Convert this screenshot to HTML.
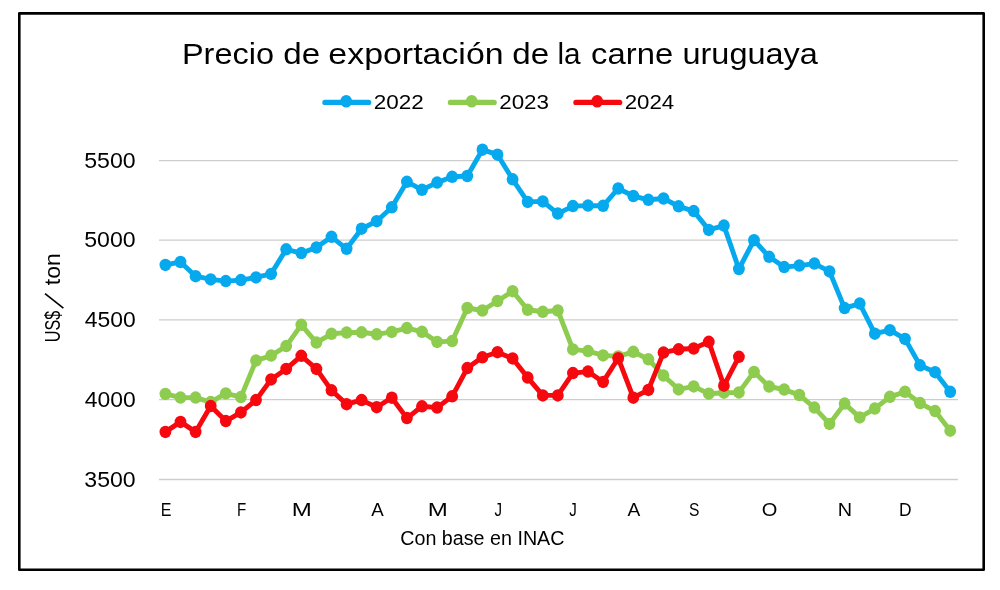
<!DOCTYPE html>
<html lang="es"><head><meta charset="utf-8"><title>Precio de exportación de la carne uruguaya</title>
<style>html,body{margin:0;padding:0;background:#fff;}body{width:1000px;height:590px;overflow:hidden;font-family:"Liberation Sans",sans-serif;}svg{display:block;}</style></head>
<body>
<svg width="1000" height="590" viewBox="0 0 1000 590" font-family="'Liberation Sans', sans-serif" fill="#000" style="font-kerning:none">
<rect x="0" y="0" width="1000" height="590" fill="#fff"/>
<rect x="19.3" y="13.4" width="964.4" height="556.3" fill="none" stroke="#000" stroke-width="2.6" stroke-linejoin="round"/>
<line x1="159.0" y1="160.65" x2="958.0" y2="160.65" stroke="#CDCDCD" stroke-width="1.3"/>
<line x1="159.0" y1="240.2" x2="958.0" y2="240.2" stroke="#CDCDCD" stroke-width="1.3"/>
<line x1="159.0" y1="319.9" x2="958.0" y2="319.9" stroke="#CDCDCD" stroke-width="1.3"/>
<line x1="159.0" y1="399.6" x2="958.0" y2="399.6" stroke="#CDCDCD" stroke-width="1.3"/>
<line x1="159.0" y1="479.5" x2="958.0" y2="479.5" stroke="#CDCDCD" stroke-width="1.3"/>
<line x1="324.9" y1="102.45" x2="368.7" y2="102.45" stroke="#06A9EE" stroke-width="5.2" stroke-linecap="round"/><ellipse cx="346.2" cy="101.3" rx="5.8" ry="6.3" fill="#06A9EE"/>
<line x1="450.4" y1="102.45" x2="494.2" y2="102.45" stroke="#8DCC4E" stroke-width="5.2" stroke-linecap="round"/><ellipse cx="471.7" cy="101.3" rx="5.8" ry="6.3" fill="#8DCC4E"/>
<line x1="575.9" y1="102.45" x2="619.7" y2="102.45" stroke="#F5090F" stroke-width="5.2" stroke-linecap="round"/><ellipse cx="597.2" cy="101.3" rx="5.8" ry="6.3" fill="#F5090F"/>
<defs><filter id="gs" filterUnits="userSpaceOnUse" x="0" y="0" width="1000" height="590" color-interpolation-filters="sRGB"><feColorMatrix type="saturate" values="0"/></filter></defs>
<g opacity="0.999" filter="url(#gs)">
<text transform="translate(181.93,64.40) scale(1.0692,1)" font-size="30.4">Precio</text>
<text transform="translate(283.21,64.40) scale(1.0902,1)" font-size="30.4">de</text>
<text transform="translate(328.36,64.40) scale(1.1157,1)" font-size="30.4">exportación</text>
<text transform="translate(512.21,64.40) scale(1.0902,1)" font-size="30.4">de</text>
<text transform="translate(557.50,64.40) scale(0.9763,1)" font-size="30.4">la</text>
<text transform="translate(591.11,64.40) scale(1.0790,1)" font-size="30.4">carne</text>
<text transform="translate(682.49,64.40) scale(1.0682,1)" font-size="30.4">uruguaya</text>
<text transform="translate(373.67,109.10) scale(1.0716,1)" font-size="21.0">2022</text>
<text transform="translate(499.17,109.10) scale(1.0684,1)" font-size="21.0">2023</text>
<text transform="translate(624.68,109.10) scale(1.0612,1)" font-size="21.0">2024</text>
<text transform="translate(84.27,167.70) scale(1.0905,1)" font-size="21.2">5500</text>
<text transform="translate(84.27,247.20) scale(1.0905,1)" font-size="21.2">5000</text>
<text transform="translate(84.67,326.90) scale(1.0819,1)" font-size="21.2">4500</text>
<text transform="translate(84.67,406.60) scale(1.0819,1)" font-size="21.2">4000</text>
<text transform="translate(84.32,486.50) scale(1.0895,1)" font-size="21.2">3500</text>
<text transform="translate(59.90,342.25) rotate(-90) scale(0.7579,1)" font-size="21.3">US$</text>
<text transform="translate(59.90,285.25) rotate(-90) scale(1.0823,1)" font-size="21.3">ton</text>
<line x1="63.4" y1="308.1" x2="45.0" y2="293.6" stroke="#000" stroke-width="1.7"/>
<text transform="translate(160.78,515.60) scale(0.8360,1)" font-size="19.2">E</text>
<text transform="translate(236.96,515.60) scale(0.7885,1)" font-size="19.2">F</text>
<text transform="translate(291.83,515.60) scale(1.2535,1)" font-size="19.2">M</text>
<text transform="translate(371.26,515.60) scale(0.9740,1)" font-size="19.2">A</text>
<text transform="translate(427.83,515.60) scale(1.2535,1)" font-size="19.2">M</text>
<text transform="translate(494.46,515.60) scale(0.7873,1)" font-size="19.2">J</text>
<text transform="translate(569.36,515.60) scale(0.7873,1)" font-size="19.2">J</text>
<text transform="translate(627.46,515.60) scale(0.9975,1)" font-size="19.2">A</text>
<text transform="translate(688.99,515.60) scale(0.8142,1)" font-size="19.2">S</text>
<text transform="translate(761.65,515.60) scale(1.0453,1)" font-size="19.2">O</text>
<text transform="translate(837.77,515.60) scale(1.0350,1)" font-size="19.2">N</text>
<text transform="translate(898.97,515.60) scale(0.9057,1)" font-size="19.2">D</text>
<text transform="translate(400.20,544.50) scale(1.0161,1)" font-size="19.4">Con base en INAC</text>
</g>
<polyline points="165.4,264.9 180.5,262.0 195.6,276.2 210.7,279.4 225.8,281.1 240.9,280.1 256.0,277.4 271.1,273.9 286.2,249.3 301.3,253.1 316.4,247.5 331.5,236.8 346.6,248.8 361.6,228.7 376.7,221.2 391.8,207.3 406.9,181.8 422.0,189.8 437.1,182.6 452.2,176.8 467.3,176.0 482.4,149.7 497.5,154.7 512.6,179.3 527.7,201.9 542.8,201.4 557.8,213.6 572.9,206.1 588.0,205.6 603.1,205.8 618.2,188.5 633.3,196.0 648.4,199.8 663.5,198.5 678.6,206.3 693.7,211.1 708.8,229.9 723.9,225.6 738.9,269.0 754.0,240.2 769.1,256.8 784.2,267.1 799.3,265.6 814.4,263.6 829.5,271.4 844.6,308.1 859.7,303.6 874.8,333.7 889.9,330.2 905.0,338.9 920.0,365.3 935.1,372.2 950.2,391.8" fill="none" stroke="#06A9EE" stroke-width="4.9" stroke-linejoin="round" stroke-linecap="round"/>
<g fill="#06A9EE"><ellipse cx="165.4" cy="264.9" rx="5.9" ry="6.25"/><ellipse cx="180.5" cy="262.0" rx="5.9" ry="6.25"/><ellipse cx="195.6" cy="276.2" rx="5.9" ry="6.25"/><ellipse cx="210.7" cy="279.4" rx="5.9" ry="6.25"/><ellipse cx="225.8" cy="281.1" rx="5.9" ry="6.25"/><ellipse cx="240.9" cy="280.1" rx="5.9" ry="6.25"/><ellipse cx="256.0" cy="277.4" rx="5.9" ry="6.25"/><ellipse cx="271.1" cy="273.9" rx="5.9" ry="6.25"/><ellipse cx="286.2" cy="249.3" rx="5.9" ry="6.25"/><ellipse cx="301.3" cy="253.1" rx="5.9" ry="6.25"/><ellipse cx="316.4" cy="247.5" rx="5.9" ry="6.25"/><ellipse cx="331.5" cy="236.8" rx="5.9" ry="6.25"/><ellipse cx="346.6" cy="248.8" rx="5.9" ry="6.25"/><ellipse cx="361.6" cy="228.7" rx="5.9" ry="6.25"/><ellipse cx="376.7" cy="221.2" rx="5.9" ry="6.25"/><ellipse cx="391.8" cy="207.3" rx="5.9" ry="6.25"/><ellipse cx="406.9" cy="181.8" rx="5.9" ry="6.25"/><ellipse cx="422.0" cy="189.8" rx="5.9" ry="6.25"/><ellipse cx="437.1" cy="182.6" rx="5.9" ry="6.25"/><ellipse cx="452.2" cy="176.8" rx="5.9" ry="6.25"/><ellipse cx="467.3" cy="176.0" rx="5.9" ry="6.25"/><ellipse cx="482.4" cy="149.7" rx="5.9" ry="6.25"/><ellipse cx="497.5" cy="154.7" rx="5.9" ry="6.25"/><ellipse cx="512.6" cy="179.3" rx="5.9" ry="6.25"/><ellipse cx="527.7" cy="201.9" rx="5.9" ry="6.25"/><ellipse cx="542.8" cy="201.4" rx="5.9" ry="6.25"/><ellipse cx="557.8" cy="213.6" rx="5.9" ry="6.25"/><ellipse cx="572.9" cy="206.1" rx="5.9" ry="6.25"/><ellipse cx="588.0" cy="205.6" rx="5.9" ry="6.25"/><ellipse cx="603.1" cy="205.8" rx="5.9" ry="6.25"/><ellipse cx="618.2" cy="188.5" rx="5.9" ry="6.25"/><ellipse cx="633.3" cy="196.0" rx="5.9" ry="6.25"/><ellipse cx="648.4" cy="199.8" rx="5.9" ry="6.25"/><ellipse cx="663.5" cy="198.5" rx="5.9" ry="6.25"/><ellipse cx="678.6" cy="206.3" rx="5.9" ry="6.25"/><ellipse cx="693.7" cy="211.1" rx="5.9" ry="6.25"/><ellipse cx="708.8" cy="229.9" rx="5.9" ry="6.25"/><ellipse cx="723.9" cy="225.6" rx="5.9" ry="6.25"/><ellipse cx="738.9" cy="269.0" rx="5.9" ry="6.25"/><ellipse cx="754.0" cy="240.2" rx="5.9" ry="6.25"/><ellipse cx="769.1" cy="256.8" rx="5.9" ry="6.25"/><ellipse cx="784.2" cy="267.1" rx="5.9" ry="6.25"/><ellipse cx="799.3" cy="265.6" rx="5.9" ry="6.25"/><ellipse cx="814.4" cy="263.6" rx="5.9" ry="6.25"/><ellipse cx="829.5" cy="271.4" rx="5.9" ry="6.25"/><ellipse cx="844.6" cy="308.1" rx="5.9" ry="6.25"/><ellipse cx="859.7" cy="303.6" rx="5.9" ry="6.25"/><ellipse cx="874.8" cy="333.7" rx="5.9" ry="6.25"/><ellipse cx="889.9" cy="330.2" rx="5.9" ry="6.25"/><ellipse cx="905.0" cy="338.9" rx="5.9" ry="6.25"/><ellipse cx="920.0" cy="365.3" rx="5.9" ry="6.25"/><ellipse cx="935.1" cy="372.2" rx="5.9" ry="6.25"/><ellipse cx="950.2" cy="391.8" rx="5.9" ry="6.25"/></g>
<polyline points="165.4,393.9 180.5,397.6 195.6,397.6 210.7,402.1 225.8,393.4 240.9,397.1 256.0,360.6 271.1,355.6 286.2,346.1 301.3,324.8 316.4,342.6 331.5,333.8 346.6,332.6 361.6,332.3 376.7,334.3 391.8,331.9 406.9,328.1 422.0,331.8 437.1,341.9 452.2,341.1 467.3,308.0 482.4,310.5 497.5,301.0 512.6,291.2 527.7,309.8 542.8,311.8 557.8,310.5 572.9,349.4 588.0,351.1 603.1,355.4 618.2,356.4 633.3,351.8 648.4,359.3 663.5,375.6 678.6,389.4 693.7,386.4 708.8,393.7 723.9,392.7 738.9,392.4 754.0,371.9 769.1,386.5 784.2,389.6 799.3,395.0 814.4,407.6 829.5,423.9 844.6,403.6 859.7,417.4 874.8,408.6 889.9,396.8 905.0,391.8 920.0,403.1 935.1,411.1 950.2,430.7" fill="none" stroke="#8DCC4E" stroke-width="4.9" stroke-linejoin="round" stroke-linecap="round"/>
<g fill="#8DCC4E"><ellipse cx="165.4" cy="393.9" rx="5.9" ry="6.25"/><ellipse cx="180.5" cy="397.6" rx="5.9" ry="6.25"/><ellipse cx="195.6" cy="397.6" rx="5.9" ry="6.25"/><ellipse cx="210.7" cy="402.1" rx="5.9" ry="6.25"/><ellipse cx="225.8" cy="393.4" rx="5.9" ry="6.25"/><ellipse cx="240.9" cy="397.1" rx="5.9" ry="6.25"/><ellipse cx="256.0" cy="360.6" rx="5.9" ry="6.25"/><ellipse cx="271.1" cy="355.6" rx="5.9" ry="6.25"/><ellipse cx="286.2" cy="346.1" rx="5.9" ry="6.25"/><ellipse cx="301.3" cy="324.8" rx="5.9" ry="6.25"/><ellipse cx="316.4" cy="342.6" rx="5.9" ry="6.25"/><ellipse cx="331.5" cy="333.8" rx="5.9" ry="6.25"/><ellipse cx="346.6" cy="332.6" rx="5.9" ry="6.25"/><ellipse cx="361.6" cy="332.3" rx="5.9" ry="6.25"/><ellipse cx="376.7" cy="334.3" rx="5.9" ry="6.25"/><ellipse cx="391.8" cy="331.9" rx="5.9" ry="6.25"/><ellipse cx="406.9" cy="328.1" rx="5.9" ry="6.25"/><ellipse cx="422.0" cy="331.8" rx="5.9" ry="6.25"/><ellipse cx="437.1" cy="341.9" rx="5.9" ry="6.25"/><ellipse cx="452.2" cy="341.1" rx="5.9" ry="6.25"/><ellipse cx="467.3" cy="308.0" rx="5.9" ry="6.25"/><ellipse cx="482.4" cy="310.5" rx="5.9" ry="6.25"/><ellipse cx="497.5" cy="301.0" rx="5.9" ry="6.25"/><ellipse cx="512.6" cy="291.2" rx="5.9" ry="6.25"/><ellipse cx="527.7" cy="309.8" rx="5.9" ry="6.25"/><ellipse cx="542.8" cy="311.8" rx="5.9" ry="6.25"/><ellipse cx="557.8" cy="310.5" rx="5.9" ry="6.25"/><ellipse cx="572.9" cy="349.4" rx="5.9" ry="6.25"/><ellipse cx="588.0" cy="351.1" rx="5.9" ry="6.25"/><ellipse cx="603.1" cy="355.4" rx="5.9" ry="6.25"/><ellipse cx="618.2" cy="356.4" rx="5.9" ry="6.25"/><ellipse cx="633.3" cy="351.8" rx="5.9" ry="6.25"/><ellipse cx="648.4" cy="359.3" rx="5.9" ry="6.25"/><ellipse cx="663.5" cy="375.6" rx="5.9" ry="6.25"/><ellipse cx="678.6" cy="389.4" rx="5.9" ry="6.25"/><ellipse cx="693.7" cy="386.4" rx="5.9" ry="6.25"/><ellipse cx="708.8" cy="393.7" rx="5.9" ry="6.25"/><ellipse cx="723.9" cy="392.7" rx="5.9" ry="6.25"/><ellipse cx="738.9" cy="392.4" rx="5.9" ry="6.25"/><ellipse cx="754.0" cy="371.9" rx="5.9" ry="6.25"/><ellipse cx="769.1" cy="386.5" rx="5.9" ry="6.25"/><ellipse cx="784.2" cy="389.6" rx="5.9" ry="6.25"/><ellipse cx="799.3" cy="395.0" rx="5.9" ry="6.25"/><ellipse cx="814.4" cy="407.6" rx="5.9" ry="6.25"/><ellipse cx="829.5" cy="423.9" rx="5.9" ry="6.25"/><ellipse cx="844.6" cy="403.6" rx="5.9" ry="6.25"/><ellipse cx="859.7" cy="417.4" rx="5.9" ry="6.25"/><ellipse cx="874.8" cy="408.6" rx="5.9" ry="6.25"/><ellipse cx="889.9" cy="396.8" rx="5.9" ry="6.25"/><ellipse cx="905.0" cy="391.8" rx="5.9" ry="6.25"/><ellipse cx="920.0" cy="403.1" rx="5.9" ry="6.25"/><ellipse cx="935.1" cy="411.1" rx="5.9" ry="6.25"/><ellipse cx="950.2" cy="430.7" rx="5.9" ry="6.25"/></g>
<polyline points="165.4,431.9 180.5,421.9 195.6,431.9 210.7,406.1 225.8,421.1 240.9,412.4 256.0,400.1 271.1,379.4 286.2,368.9 301.3,355.8 316.4,368.9 331.5,390.3 346.6,404.2 361.6,400.1 376.7,407.2 391.8,397.7 406.9,418.1 422.0,406.3 437.1,407.6 452.2,396.3 467.3,368.1 482.4,357.3 497.5,352.2 512.6,358.4 527.7,377.6 542.8,395.4 557.8,395.4 572.9,373.1 588.0,371.6 603.1,381.9 618.2,358.2 633.3,397.7 648.4,389.9 663.5,352.6 678.6,349.3 693.7,348.5 708.8,341.8 723.9,385.7 738.9,356.8" fill="none" stroke="#F5090F" stroke-width="4.9" stroke-linejoin="round" stroke-linecap="round"/>
<g fill="#F5090F"><ellipse cx="165.4" cy="431.9" rx="5.9" ry="6.25"/><ellipse cx="180.5" cy="421.9" rx="5.9" ry="6.25"/><ellipse cx="195.6" cy="431.9" rx="5.9" ry="6.25"/><ellipse cx="210.7" cy="406.1" rx="5.9" ry="6.25"/><ellipse cx="225.8" cy="421.1" rx="5.9" ry="6.25"/><ellipse cx="240.9" cy="412.4" rx="5.9" ry="6.25"/><ellipse cx="256.0" cy="400.1" rx="5.9" ry="6.25"/><ellipse cx="271.1" cy="379.4" rx="5.9" ry="6.25"/><ellipse cx="286.2" cy="368.9" rx="5.9" ry="6.25"/><ellipse cx="301.3" cy="355.8" rx="5.9" ry="6.25"/><ellipse cx="316.4" cy="368.9" rx="5.9" ry="6.25"/><ellipse cx="331.5" cy="390.3" rx="5.9" ry="6.25"/><ellipse cx="346.6" cy="404.2" rx="5.9" ry="6.25"/><ellipse cx="361.6" cy="400.1" rx="5.9" ry="6.25"/><ellipse cx="376.7" cy="407.2" rx="5.9" ry="6.25"/><ellipse cx="391.8" cy="397.7" rx="5.9" ry="6.25"/><ellipse cx="406.9" cy="418.1" rx="5.9" ry="6.25"/><ellipse cx="422.0" cy="406.3" rx="5.9" ry="6.25"/><ellipse cx="437.1" cy="407.6" rx="5.9" ry="6.25"/><ellipse cx="452.2" cy="396.3" rx="5.9" ry="6.25"/><ellipse cx="467.3" cy="368.1" rx="5.9" ry="6.25"/><ellipse cx="482.4" cy="357.3" rx="5.9" ry="6.25"/><ellipse cx="497.5" cy="352.2" rx="5.9" ry="6.25"/><ellipse cx="512.6" cy="358.4" rx="5.9" ry="6.25"/><ellipse cx="527.7" cy="377.6" rx="5.9" ry="6.25"/><ellipse cx="542.8" cy="395.4" rx="5.9" ry="6.25"/><ellipse cx="557.8" cy="395.4" rx="5.9" ry="6.25"/><ellipse cx="572.9" cy="373.1" rx="5.9" ry="6.25"/><ellipse cx="588.0" cy="371.6" rx="5.9" ry="6.25"/><ellipse cx="603.1" cy="381.9" rx="5.9" ry="6.25"/><ellipse cx="618.2" cy="358.2" rx="5.9" ry="6.25"/><ellipse cx="633.3" cy="397.7" rx="5.9" ry="6.25"/><ellipse cx="648.4" cy="389.9" rx="5.9" ry="6.25"/><ellipse cx="663.5" cy="352.6" rx="5.9" ry="6.25"/><ellipse cx="678.6" cy="349.3" rx="5.9" ry="6.25"/><ellipse cx="693.7" cy="348.5" rx="5.9" ry="6.25"/><ellipse cx="708.8" cy="341.8" rx="5.9" ry="6.25"/><ellipse cx="723.9" cy="385.7" rx="5.9" ry="6.25"/><ellipse cx="738.9" cy="356.8" rx="5.9" ry="6.25"/></g>
</svg>
</body></html>
